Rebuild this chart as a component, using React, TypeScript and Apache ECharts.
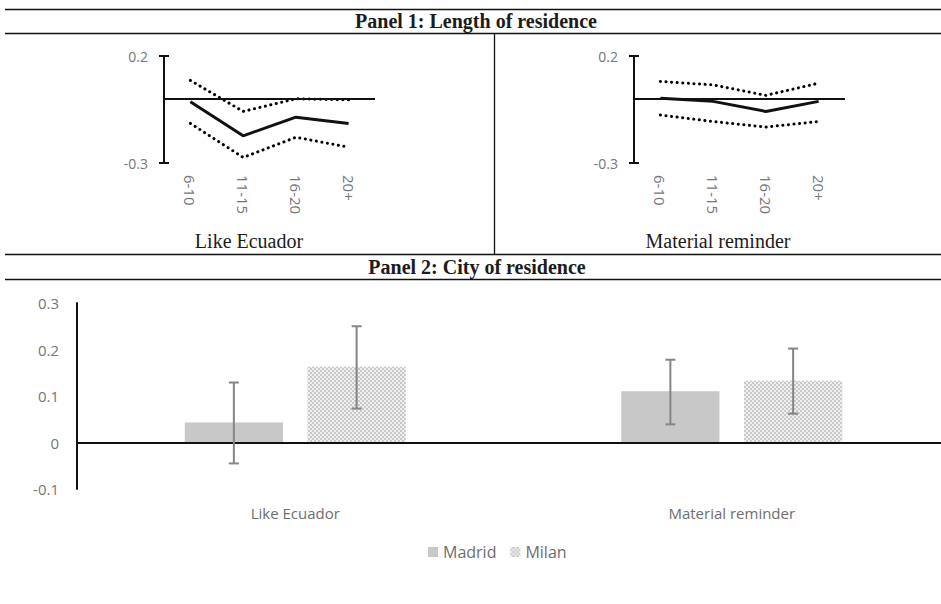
import React, { useEffect, useRef } from "react";
import * as echarts from "echarts";

// Panel 1: length of residence
const residenceCats = ["6-10", "11-15", "16-20", "20+"];
const ecuadorMean = [-0.014, -0.173, -0.086, -0.115];
const ecuadorUpper = [0.086, -0.059, 0.0, -0.005];
const ecuadorLower = [-0.115, -0.274, -0.18, -0.226];
const reminderMean = [0.003, -0.012, -0.059, -0.012];
const reminderUpper = [0.081, 0.065, 0.016, 0.073];
const reminderLower = [-0.076, -0.106, -0.132, -0.106];
const panel1Ticks = [-0.3, 0.2];

// Panel 2: city of residence
const cityCats = ["Like Ecuador", "Material reminder"];
const madridValues = [0.043, 0.11];
const madridLow = [-0.045, 0.039];
const madridHigh = [0.129, 0.178];
const milanValues = [0.163, 0.133];
const milanLow = [0.073, 0.062];
const milanHigh = [0.25, 0.202];

const SANS = "'Open Sans', 'Noto Sans', sans-serif";
const SERIF = "'Liberation Serif', 'DejaVu Serif', serif";

export default function App() {
  const ref = useRef<HTMLDivElement>(null);

  useEffect(() => {
    if (!ref.current) return;
    const chart = echarts.init(ref.current, undefined, { renderer: "svg" });

    const dotted = {
      color: "#000",
      width: 3,
      type: [0.1, 5.5],
      cap: "round",
    };
    const zeroLine = (w: number) => ({
      silent: true,
      symbol: ["none", "none"],
      label: { show: false },
      lineStyle: { color: "#111", width: w, type: "solid" },
      data: [{ yAxis: 0 }],
    });

    const topX = (i: number) => ({
      type: "category",
      gridIndex: i,
      data: residenceCats,
      axisLine: { show: false },
      axisTick: { show: false },
      axisLabel: {
        rotate: -90,
        margin: 12,
        color: "#767676",
        fontSize: 15,
        fontFamily: SANS,
      },
    });
    const topYMain = (i: number) => ({
      type: "value",
      gridIndex: i,
      min: -0.3,
      max: 0.2,
      splitLine: { show: false },
      axisLine: { show: true, lineStyle: { color: "#111", width: 2 } },
      axisTick: {
        show: true,
        customValues: panel1Ticks,
        length: 5,
        lineStyle: { color: "#111", width: 2 },
      },
      axisLabel: {
        customValues: panel1Ticks,
        margin: 16,
        color: "#767676",
        fontSize: 14,
        fontFamily: SANS,
        formatter: (v: number) => v.toFixed(1),
      },
    });
    const topYInner = (i: number) => ({
      type: "value",
      gridIndex: i,
      position: "left",
      min: -0.3,
      max: 0.2,
      splitLine: { show: false },
      axisLine: { show: false },
      axisLabel: { show: false },
      axisTick: {
        show: true,
        inside: true,
        customValues: panel1Ticks,
        length: 5,
        lineStyle: { color: "#111", width: 2 },
      },
    });

    const lineSeries = (xi: number, yi: number, data: number[], style: any, mark?: any) => ({
      type: "line",
      xAxisIndex: xi,
      yAxisIndex: yi,
      data,
      symbol: "none",
      silent: true,
      lineStyle: style,
      ...(mark ? { markLine: mark } : {}),
    });

    const errSeries = (low: number[], high: number[], side: number) => ({
      type: "custom",
      xAxisIndex: 2,
      yAxisIndex: 4,
      silent: true,
      z: 5,
      data: low.map((l, i) => [i, l, high[i]]),
      encode: { x: 0, y: [1, 2] },
      renderItem: (params: any, api: any) => {
        const cat = api.value(0);
        const lo = api.value(1);
        const hi = api.value(2);
        const band = api.size([1, 0])[0];
        const bw = band * 0.225;
        const offset = (side * (bw * 1.25)) / 2;
        const p1 = api.coord([cat, hi]);
        const p2 = api.coord([cat, lo]);
        const x = p1[0] + offset;
        const style = { stroke: "#858585", lineWidth: 2 };
        return {
          type: "group",
          children: [
            { type: "line", shape: { x1: x, y1: p1[1], x2: x, y2: p2[1] }, style },
            { type: "line", shape: { x1: x - 5, y1: p1[1], x2: x + 5, y2: p1[1] }, style },
            { type: "line", shape: { x1: x - 5, y1: p2[1], x2: x + 5, y2: p2[1] }, style },
          ],
        };
      },
    });

    const sep = (x1: number, y1: number, x2: number, y2: number) => ({
      type: "line",
      silent: true,
      shape: { x1, y1, x2, y2 },
      style: { stroke: "#111", lineWidth: 1.3 },
    });
    const txt = (text: string, x: number, y: number, bold: boolean) => ({
      type: "text",
      silent: true,
      x,
      y,
      style: {
        text,
        font: `${bold ? "bold " : ""}20px ${SERIF}`,
        fill: "#1c1c1c",
        textAlign: "center",
        textVerticalAlign: "middle",
      },
    });

    const option: any = {
      animation: false,
      backgroundColor: "#ffffff",
      grid: [
        { left: 164, top: 56, width: 211, height: 107, outerBoundsMode: "none" },
        { left: 634, top: 56, width: 211, height: 107, outerBoundsMode: "none" },
        { left: 77, top: 303, width: 873, height: 186, outerBoundsMode: "none" },
      ],
      xAxis: [
        topX(0),
        topX(1),
        {
          type: "category",
          gridIndex: 2,
          data: cityCats,
          axisLine: { show: false },
          axisTick: { show: false },
          axisLabel: { margin: 16, color: "#6e6e6e", fontSize: 15, fontFamily: SANS },
        },
      ],
      yAxis: [
        topYMain(0),
        topYInner(0),
        topYMain(1),
        topYInner(1),
        {
          type: "value",
          gridIndex: 2,
          min: -0.1,
          max: 0.3,
          interval: 0.1,
          splitLine: { show: false },
          axisLine: { show: true, lineStyle: { color: "#111", width: 2 } },
          axisTick: { show: false },
          axisLabel: {
            margin: 18,
            color: "#767676",
            fontSize: 15,
            fontFamily: SANS,
            formatter: (v: number) => (Math.abs(v) < 1e-9 ? "0" : v.toFixed(1)),
          },
        },
      ],
      legend: {
        data: ["Madrid", "Milan"],
        left: 428,
        top: 544,
        padding: 0,
        itemWidth: 10,
        itemHeight: 10,
        itemGap: 14,
        icon: "rect",
        textStyle: { color: "#6e6e6e", fontSize: 16, fontFamily: SANS },
      },
      series: [
        lineSeries(0, 0, ecuadorUpper, dotted),
        lineSeries(0, 0, ecuadorMean, { color: "#111", width: 3 }, zeroLine(2)),
        lineSeries(0, 0, ecuadorLower, dotted),
        lineSeries(1, 2, reminderUpper, dotted),
        lineSeries(1, 2, reminderMean, { color: "#111", width: 3 }, zeroLine(2)),
        lineSeries(1, 2, reminderLower, dotted),
        {
          type: "bar",
          name: "Madrid",
          xAxisIndex: 2,
          yAxisIndex: 4,
          data: madridValues,
          barWidth: "22.5%",
          barGap: "25%",
          silent: true,
          itemStyle: { color: "#c8c8c8" },
          markLine: zeroLine(2.2),
        },
        {
          type: "bar",
          name: "Milan",
          xAxisIndex: 2,
          yAxisIndex: 4,
          data: milanValues,
          barWidth: "22.5%",
          barGap: "25%",
          silent: true,
          itemStyle: {
            color: "#efefef",
            decal: {
              symbol: "rect",
              symbolSize: 1,
              dashArrayX: [[2, 2], [0, 2, 2, 0]],
              dashArrayY: [2, 0],
              color: "#c9c9c9",
              rotation: 0,
            },
          },
        },
        errSeries(madridLow, madridHigh, -1),
        errSeries(milanLow, milanHigh, 1),
      ],
      graphic: [
        sep(5, 9.5, 941, 9.5),
        sep(5, 33.5, 941, 33.5),
        sep(494.5, 33.5, 494.5, 254.5),
        sep(5, 254.5, 941, 254.5),
        sep(5, 279.5, 941, 279.5),
        txt("Panel 1: Length of residence", 476, 21, true),
        txt("Like Ecuador", 249, 241, false),
        txt("Material reminder", 718, 241, false),
        txt("Panel 2: City of residence", 477, 267, true),
      ],
    };

    chart.setOption(option);
    return () => chart.dispose();
  }, []);

  return (
    <div
      ref={ref}
      style={{ position: "absolute", left: 0, top: 0, width: 941, height: 604, background: "#fff" }}
    />
  );
}
